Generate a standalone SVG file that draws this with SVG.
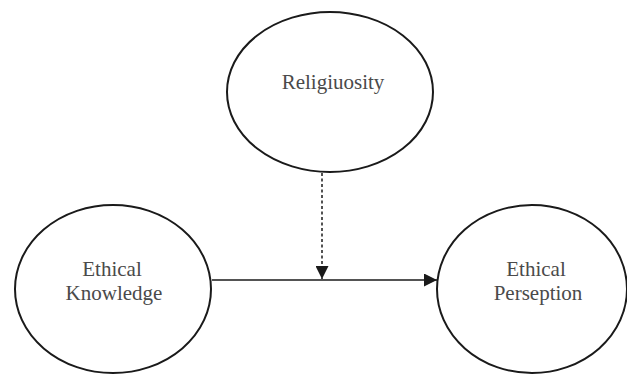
<svg xmlns="http://www.w3.org/2000/svg" width="627" height="374" viewBox="0 0 627 374">
<style>
.node{fill:#fff;stroke:#1a1a1a;stroke-width:2}
.edge{stroke:#1a1a1a;stroke-width:1.5;fill:none}
.dash{stroke-dasharray:3 2.5}
</style>
<defs>
<marker id="ah2" viewBox="0 0 12 12" refX="12" refY="6" markerWidth="13" markerHeight="13" markerUnits="userSpaceOnUse" orient="auto">
<path d="M0,0 L12,6 L0,12 Z" fill="#1a1a1a"/>
</marker>
</defs>
<rect width="627" height="374" fill="#fff"/>
<g id="connectors">
<line class="edge" x1="212" y1="280" x2="437" y2="280" marker-end="url(#ah2)"/>
<line class="edge dash" x1="322" y1="173" x2="322" y2="279" marker-end="url(#ah2)"/>
</g>
<g font-family="Liberation Serif, Times New Roman, serif" font-size="21" fill="#4a4a4a" text-anchor="middle">
<g id="religiosity">
<ellipse class="node" cx="330" cy="92" rx="103" ry="80"/>
<text x="333" y="89">Religiuosity</text>
</g>
<g id="ethical-knowledge">
<ellipse class="node" cx="113" cy="289" rx="98" ry="84"/>
<text x="112" y="276">Ethical</text>
<text x="114" y="300">Knowledge</text>
</g>
<g id="ethical-perseption">
<ellipse class="node" cx="532" cy="289" rx="95" ry="84"/>
<text x="536" y="276">Ethical</text>
<text x="538" y="300">Perseption</text>
</g>
</g>
</svg>
